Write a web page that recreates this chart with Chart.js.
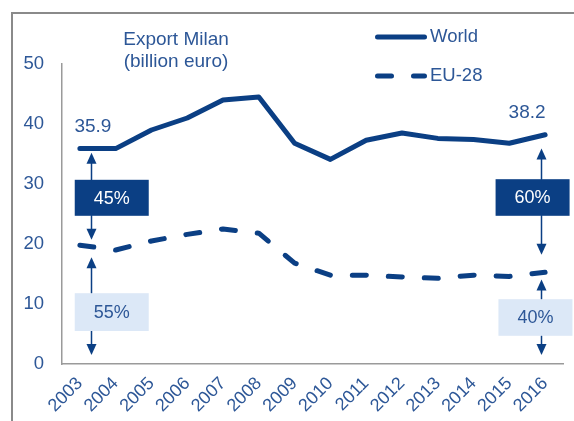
<!DOCTYPE html>
<html>
<head>
<meta charset="utf-8">
<script src="https://cdn.jsdelivr.net/npm/chart.js@4.4.1/dist/chart.umd.min.js"></script>
<style>
  html, body { margin: 0; padding: 0; background: #fff; }
  #wrap { width: 574px; height: 421px; position: relative; }
</style>
</head>
<body>
<div id="wrap"><canvas id="chart" width="574" height="421"></canvas></div>
<script>
// Export Milan (billion euro)
const years = ['2003', '2004', '2005', '2006', '2007', '2008', '2009', '2010', '2011', '2012', '2013', '2014', '2015', '2016'];
const worldExport = [35.9, 35.9, 39.0, 41.0, 44.0, 44.5, 36.8, 34.1, 37.3, 38.5, 37.6, 37.4, 36.8, 38.2];
const euExport = [19.8, 19.0, 20.5, 21.6, 22.5, 21.8, 16.8, 14.8, 14.8, 14.5, 14.3, 14.8, 14.6, 15.3];
const yTickValues = [0, 10, 20, 30, 40, 50];
const valueLabels = [{ idx: 0, text: '35.9' }, { idx: 13, text: '38.2' }];

// share boxes: [text, x index of centre, top value, bottom value, dark?]
const shareBoxes = [
  ['45%', 0.89, 30.7, 24.7, true],
  ['55%', 0.89, 11.8, 5.5, false],
  ['60%', 12.65, 30.8, 24.7, true],
  ['40%', 12.73, 10.8, 4.7, false],
];
// arrows: [x index, from value, to value (tip)]
const shareArrows = [
  [0.3, 30.7, 35.2], [0.3, 24.7, 20.7],
  [0.3, 11.8, 17.8], [0.3, 5.5, 1.5],
  [12.88, 30.8, 35.9], [12.88, 24.7, 18.2],
  [12.88, 10.8, 14.1], [12.88, 4.7, 1.5],
];

const NAVY = '#0b3f84';
const TEXT = '#2d5797';
const FONT = '"Liberation Sans", Arial, sans-serif';

function drawArrow(ctx, x, y1, y2) {
  const dir = y2 < y1 ? 1 : -1;
  ctx.beginPath();
  ctx.moveTo(x, y1);
  ctx.lineTo(x, y2 + dir * 8);
  ctx.stroke();
  ctx.beginPath();
  ctx.moveTo(x, y2);
  ctx.lineTo(x - 5, y2 + dir * 11);
  ctx.lineTo(x + 5, y2 + dir * 11);
  ctx.closePath();
  ctx.fill();
}

const decorPlugin = {
  id: 'decor',
  beforeDraw(chart) {
    const ctx = chart.ctx;
    ctx.save();
    ctx.strokeStyle = '#8a8a8a';
    ctx.lineWidth = 2;
    ctx.beginPath();
    ctx.moveTo(12, 421);
    ctx.lineTo(12, 13);
    ctx.lineTo(574, 13);
    ctx.stroke();
    ctx.restore();
  },
  afterDatasetsDraw(chart) {
    const ctx = chart.ctx;
    const xs = chart.scales.x, ys = chart.scales.y;
    ctx.save();

    // title
    ctx.fillStyle = TEXT;
    ctx.font = '19px ' + FONT;
    ctx.textAlign = 'center';
    ctx.textBaseline = 'middle';
    ctx.fillText('Export Milan', 176, 40);
    ctx.fillText('(billion euro)', 176, 62);

    // legend
    ctx.font = '18.5px ' + FONT;
    const legendRows = [[chart.data.datasets[0], 37], [chart.data.datasets[1], 76]];
    legendRows.forEach(([ds, y]) => {
      ctx.strokeStyle = ds.borderColor;
      ctx.lineWidth = ds.borderWidth;
      ctx.lineCap = 'round';
      ctx.setLineDash(ds.borderDash || []);
      ctx.beginPath();
      ctx.moveTo(377.5, y);
      ctx.lineTo(424.5, y);
      ctx.stroke();
      ctx.setLineDash([]);
      ctx.fillStyle = TEXT;
      ctx.textAlign = 'left';
      ctx.fillText(ds.label, 430, y);
    });

    // value labels
    ctx.font = '19px ' + FONT;
    ctx.textAlign = 'center';
    valueLabels.forEach(v => {
      const x = xs.getPixelForValue(v.idx);
      const y = ys.getPixelForValue(worldExport[v.idx]);
      ctx.fillText(v.text, x + (v.idx === 0 ? 13 : -18), y - 22);
    });

    // arrows
    ctx.strokeStyle = NAVY;
    ctx.fillStyle = NAVY;
    ctx.lineWidth = 1.5;
    shareArrows.forEach(([i, from, to]) => {
      drawArrow(ctx, Math.round(xs.getPixelForValue(i)) + 0.5, ys.getPixelForValue(from), ys.getPixelForValue(to));
    });

    // boxes
    ctx.font = '18px ' + FONT;
    shareBoxes.forEach(([text, i, top, bot, dark]) => {
      const cx = xs.getPixelForValue(i);
      const y1 = ys.getPixelForValue(top), y2 = ys.getPixelForValue(bot);
      ctx.fillStyle = dark ? NAVY : '#dce8f7';
      ctx.fillRect(cx - 37, y1, 74, y2 - y1);
      ctx.fillStyle = dark ? '#ffffff' : TEXT;
      ctx.textAlign = 'center';
      ctx.fillText(text, cx, (y1 + y2) / 2 + 1);
    });
    ctx.restore();
  }
};

new Chart(document.getElementById('chart'), {
  type: 'line',
  data: {
    labels: years,
    datasets: [
      {
        label: 'World', data: worldExport, borderColor: NAVY, borderWidth: 5,
        pointRadius: 0, borderCapStyle: 'round', borderJoinStyle: 'round', tension: 0, fill: false,
      },
      {
        label: 'EU-28', data: euExport, borderColor: NAVY, borderWidth: 5, borderDash: [14, 22],
        pointRadius: 0, borderCapStyle: 'round', borderJoinStyle: 'round', tension: 0, fill: false,
      },
    ],
  },
  options: {
    responsive: false,
    animation: false,
    layout: { padding: { top: 64, right: 11, left: 0, bottom: 0 } },
    plugins: { legend: { display: false }, tooltip: { enabled: false } },
    scales: {
      x: {
        type: 'category',
        offset: true,
        grid: { drawOnChartArea: false, drawTicks: false },
        border: { color: '#9a9a9a', width: 1.5 },
        ticks: {
          color: TEXT, font: { family: FONT, size: 18 },
          minRotation: 45, maxRotation: 45, padding: 9, autoSkip: false,
        },
        afterFit(scale) {
          scale.height = 57;
          scale.paddingLeft = 0;
          scale.paddingRight = 0;
        },
      },
      y: {
        min: 0, max: 50,
        grid: { drawOnChartArea: false, drawTicks: false },
        border: { color: '#9a9a9a', width: 1.5 },
        ticks: { color: TEXT, font: { family: FONT, size: 18.5 }, padding: 18 },
        afterBuildTicks(scale) {
          scale.ticks = yTickValues.map(v => ({ value: v }));
        },
        afterFit(scale) {
          scale.width = 62;
        },
      },
    },
  },
  plugins: [decorPlugin],
});
</script>
</body>
</html>
